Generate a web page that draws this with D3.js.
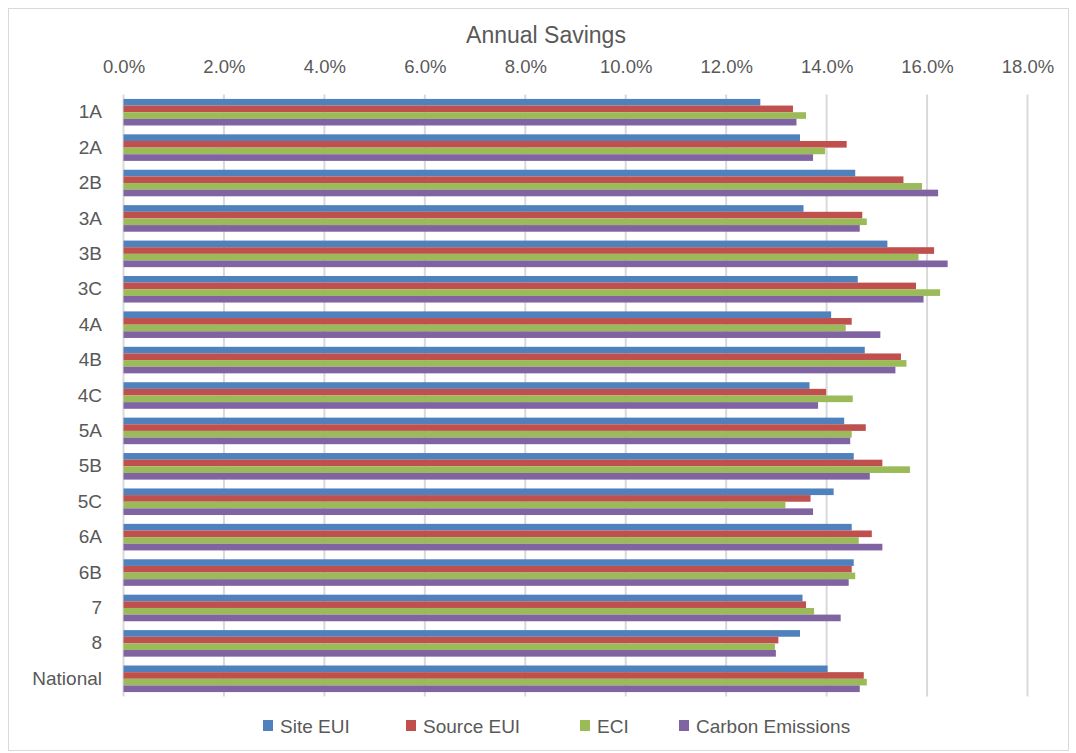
<!DOCTYPE html>
<html>
<head>
<meta charset="utf-8">
<script src="https://cdn.jsdelivr.net/npm/d3@7"></script>
<style>
  html, body { margin: 0; padding: 0; background: #fff; }
  svg { display: block; font-family: "Liberation Sans", Arial, sans-serif; }
</style>
</head>
<body>
<svg id="chart" width="1076" height="753"></svg>
<script>
// Climate zones shown on the vertical axis
const categories = ["1A","2A","2B","3A","3B","3C","4A","4B","4C","5A","5B","5C","6A","6B","7","8","National"];

// Annual savings per zone (fractions)
const siteEUI   = [0.1268,0.1347,0.1457,0.1354,0.1521,0.1462,0.1409,0.1476,0.1366,0.1435,0.1454,0.1414,0.1450,0.1454,0.1352,0.1347,0.1402];
const sourceEUI = [0.1333,0.1440,0.1553,0.1471,0.1614,0.1578,0.1450,0.1548,0.1399,0.1478,0.1511,0.1368,0.1490,0.1450,0.1359,0.1304,0.1474];
const eci       = [0.1359,0.1397,0.1590,0.1480,0.1583,0.1626,0.1438,0.1559,0.1452,0.1450,0.1566,0.1318,0.1464,0.1457,0.1375,0.1297,0.1480];
const carbon    = [0.1340,0.1373,0.1622,0.1466,0.1641,0.1593,0.1507,0.1537,0.1383,0.1447,0.1486,0.1373,0.1511,0.1444,0.1428,0.1299,0.1466];

const seriesNames  = ["Site EUI","Source EUI","ECI","Carbon Emissions"];
const seriesValues = [siteEUI, sourceEUI, eci, carbon];
const seriesColors = ["#4F81BD","#C0504D","#9BBB59","#8064A2"];
const xTicks = [0,0.02,0.04,0.06,0.08,0.10,0.12,0.14,0.16,0.18];

const svg = d3.select("#chart");
const textColor = "#595959";
const gridColor = "#d9d9d9";

// outer chart frame
svg.append("rect")
  .attr("x", 8.5).attr("y", 8.5).attr("width", 1060).attr("height", 742)
  .attr("fill", "#fff").attr("stroke", gridColor).attr("stroke-width", 1);

const plot = { left: 123.5, right: 1027.5, top: 94.5, bottom: 696.5 };

const x = d3.scaleLinear().domain([0, 0.18]).range([plot.left, plot.right]);
const y = d3.scaleBand().domain(categories).range([plot.top, plot.bottom]).paddingInner(0.25).paddingOuter(0.125);
const ySub = d3.scaleBand().domain(seriesNames).range([0, y.bandwidth()]);

// vertical gridlines
svg.append("g").selectAll("line")
  .data(xTicks.slice(1))
  .join("line")
  .attr("x1", d => x(d)).attr("x2", d => x(d))
  .attr("y1", plot.top).attr("y2", plot.bottom)
  .attr("stroke", gridColor).attr("stroke-width", 2);

// category axis line
svg.append("line")
  .attr("x1", plot.left).attr("x2", plot.left)
  .attr("y1", plot.top).attr("y2", plot.bottom)
  .attr("stroke", gridColor).attr("stroke-width", 2);

// top value axis
const xAxis = d3.axisTop(x).tickValues(xTicks).tickFormat(d3.format(".1%")).tickSize(0).tickPadding(0);
const gx = svg.append("g").attr("transform", "translate(0,73)").call(xAxis);
gx.select(".domain").remove();
gx.selectAll("text").attr("fill", textColor).attr("font-size", 18.5)
  .attr("font-family", "'Liberation Sans', Arial, sans-serif");

// category labels
const yAxis = d3.axisLeft(y).tickSize(0).tickPadding(0);
const gy = svg.append("g").attr("transform", "translate(102,0)").call(yAxis);
gy.select(".domain").remove();
gy.selectAll("text").attr("fill", textColor).attr("font-size", 19)
  .attr("font-family", "'Liberation Sans', Arial, sans-serif");

// bars
const groups = svg.append("g").selectAll("g")
  .data(categories)
  .join("g")
  .attr("transform", d => `translate(0,${y(d)})`);

groups.selectAll("rect")
  .data((c, i) => seriesNames.map((s, k) => ({ series: s, value: seriesValues[k][i], color: seriesColors[k] })))
  .join("rect")
  .attr("x", x(0))
  .attr("y", d => ySub(d.series))
  .attr("width", d => x(d.value) - x(0))
  .attr("height", ySub.bandwidth())
  .attr("fill", d => d.color);

// title
svg.append("text")
  .attr("x", 546).attr("y", 43)
  .attr("text-anchor", "middle")
  .attr("fill", textColor).attr("font-size", 23)
  .text("Annual Savings");

// legend
const legendX = [263, 406, 580, 679];
const legend = svg.append("g").selectAll("g")
  .data(seriesNames)
  .join("g")
  .attr("transform", (d, i) => `translate(${legendX[i]},0)`);
legend.append("rect")
  .attr("x", 0).attr("y", 720).attr("width", 10).attr("height", 11)
  .attr("fill", (d, i) => seriesColors[i]);
legend.append("text")
  .attr("x", 17).attr("y", 732.5)
  .attr("fill", textColor).attr("font-size", 19)
  .text(d => d);
</script>
</body>
</html>
